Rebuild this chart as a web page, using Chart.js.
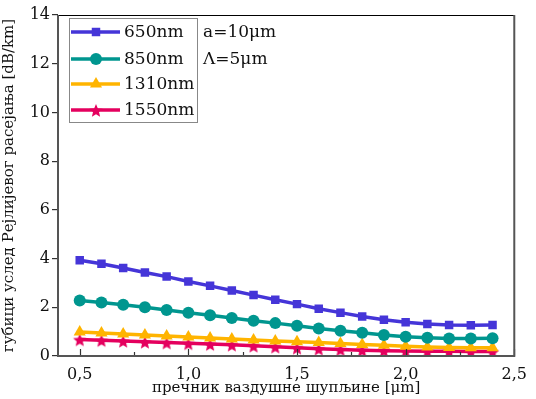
<!DOCTYPE html>
<html><head><meta charset="utf-8">
<script src="https://cdn.jsdelivr.net/npm/chart.js@4/dist/chart.umd.min.js"></script>
<style>html,body{margin:0;padding:0;background:#fff}#wrap{width:536px;height:399px}</style>
</head><body><div id="wrap"><canvas id="c" width="536" height="399"></canvas></div>
<script>
const diameters = [0.5,0.6,0.7,0.8,0.9,1.0,1.1,1.2,1.3,1.4,1.5,1.6,1.7,1.8,1.9,2.0,2.1,2.2,2.3,2.4];
const loss650  = [3.93,3.79,3.61,3.43,3.26,3.06,2.88,2.69,2.50,2.31,2.13,1.94,1.78,1.62,1.49,1.39,1.31,1.27,1.26,1.27];
const loss850  = [2.28,2.20,2.10,2.00,1.89,1.78,1.67,1.56,1.45,1.35,1.24,1.13,1.04,0.95,0.86,0.79,0.75,0.72,0.72,0.73];
const loss1310 = [0.99,0.94,0.90,0.86,0.82,0.78,0.74,0.70,0.66,0.62,0.59,0.55,0.51,0.47,0.44,0.40,0.37,0.35,0.34,0.34];
const loss1550 = [0.68,0.65,0.62,0.58,0.55,0.52,0.49,0.46,0.42,0.38,0.34,0.30,0.27,0.24,0.22,0.21,0.20,0.19,0.18,0.18];
const seriesLabels = ['650nm','850nm','1310nm','1550nm'];
const xTicks = [0.5,0.75,1.0,1.25,1.5,1.75,2.0,2.25,2.5];
const xTickLabels = {0.5:'0,5',1:'1,0',1.5:'1,5',2:'2,0',2.5:'2,5'};
const yTicks = [0,2,4,6,8,10,12,14];
const noteLines = ['a=10\u03bcm','\u039b=5\u03bcm'];
const xTitle = 'пречник ваздушне шупљине [\u03bcm]';
const yTitle = 'губици услед Рејлијевог расејања [dB/km]';

const colors = ['#4535D8','#00968F','#FFB400','#E4005E'];
const FONT = '"DejaVu Serif", serif';

function starCanvas(color, r){
  const s = Math.ceil(r*2+2), c = document.createElement('canvas');
  c.width = s; c.height = s;
  const g = c.getContext('2d'); g.fillStyle = color; g.beginPath();
  for(let i=0;i<10;i++){
    const rr = i%2===0 ? r : r*0.45;
    const a = -Math.PI/2 + i*Math.PI/5;
    const px = s/2 + rr*Math.cos(a), py = s/2 + 1 + rr*Math.sin(a);
    i===0 ? g.moveTo(px,py) : g.lineTo(px,py);
  }
  g.closePath(); g.fill();
  return c;
}
const star = starCanvas(colors[3], 7);
const styles = [
  {pointStyle:'rect', radius:6},
  {pointStyle:'circle', radius:6},
  {pointStyle:'triangle', radius:7},
  {pointStyle:star, radius:7}
];
const allData = [loss650, loss850, loss1310, loss1550];
const datasets = allData.map((arr,i)=>({
  label: seriesLabels[i],
  data: diameters.map((d,j)=>({x:d,y:arr[j]})),
  borderColor: colors[i], backgroundColor: colors[i],
  borderWidth: 3.5, pointStyle: styles[i].pointStyle,
  pointRadius: styles[i].radius, pointHoverRadius: styles[i].radius,
  pointBorderWidth: 0, tension: 0
}));

const decor = {
  id:'decor',
  afterDatasetsDraw(chart){
    const ctx = chart.ctx, a = chart.chartArea, xs = chart.scales.x;
    ctx.save();
    ctx.strokeStyle = '#333'; ctx.lineWidth = 1.2;
    xTicks.forEach(v=>{
      const px = Math.round(xs.getPixelForValue(v))+0.5;
      const len = xTickLabels[v] ? 7 : 4;
      ctx.beginPath(); ctx.moveTo(px,a.bottom); ctx.lineTo(px,a.bottom-len); ctx.stroke();
    });
    ctx.strokeStyle = '#000'; ctx.lineWidth = 1;
    ctx.beginPath(); ctx.moveTo(a.left,a.top+0.5); ctx.lineTo(a.right,a.top+0.5); ctx.stroke();
    ctx.strokeStyle = '#555'; ctx.lineWidth = 2;
    ctx.beginPath(); ctx.moveTo(a.right,a.top); ctx.lineTo(a.right,a.bottom+1); ctx.stroke();
    ctx.beginPath(); ctx.moveTo(a.left,a.bottom); ctx.lineTo(a.right,a.bottom); ctx.stroke();
    ctx.beginPath(); ctx.moveTo(a.left,a.top); ctx.lineTo(a.left,a.bottom+1); ctx.stroke();
    const bx = a.left+11, by = a.top+3, bw = 128, bh = 104;
    ctx.fillStyle = '#fff'; ctx.fillRect(bx,by,bw,bh);
    ctx.strokeStyle = '#888'; ctx.lineWidth = 1;
    ctx.strokeRect(bx+0.5,by+0.5,bw,bh);
    const rows = [14,41,66,92];
    ctx.font = '17px ' + FONT; ctx.textBaseline = 'middle'; ctx.textAlign = 'left';
    chart.data.datasets.forEach((ds,i)=>{
      const y = by + rows[i];
      ctx.strokeStyle = ds.borderColor; ctx.lineWidth = 3.5;
      ctx.beginPath(); ctx.moveTo(bx+2,y); ctx.lineTo(bx+51,y); ctx.stroke();
      ctx.fillStyle = ds.backgroundColor;
      Chart.helpers.drawPoint(ctx,{pointStyle:ds.pointStyle,radius:ds.pointRadius,rotation:0,borderWidth:0},bx+27,y);
      ctx.fillStyle = '#111';
      ctx.fillText(ds.label, bx+55, y+1);
    });
    ctx.fillStyle = '#111';
    noteLines.forEach((t,i)=>ctx.fillText(t, bx+134, by+15+i*27));
    ctx.restore();
  }
};

new Chart(document.getElementById('c'),{
  type:'line',
  data:{datasets},
  options:{
    responsive:false, animation:false, devicePixelRatio:1,
    layout:{padding:{top:15,right:16,left:0,bottom:0}},
    plugins:{legend:{display:false},tooltip:{enabled:false}},
    scales:{
      x:{type:'linear',min:0.4,max:2.5,
        afterBuildTicks(s){ s.ticks = xTicks.map(v=>({value:v})); },
        afterFit(s){ s.height = 43; },
        grid:{display:false,drawTicks:false},
        border:{display:false},
        ticks:{color:'#111',font:{family:FONT,size:16},padding:9,maxRotation:0,autoSkip:false,
          callback:(v)=>xTickLabels[Math.round(v*100)/100]||''},
        title:{display:true,text:xTitle,color:'#111',font:{family:FONT,size:15},padding:{top:0,bottom:2}}
      },
      y:{min:0,max:14,
        afterBuildTicks(s){ s.ticks = yTicks.map(v=>({value:v})); },
        afterFit(s){ s.width = 58; },
        grid:{display:true,drawOnChartArea:false,drawTicks:true,tickLength:6,color:'#333',lineWidth:1.2},
        border:{display:false},
        ticks:{color:'#111',font:{family:FONT,size:16},padding:2},
        title:{display:true,text:yTitle,color:'#111',font:{family:FONT,size:15},padding:{top:0,bottom:2}}
      }
    }
  },
  plugins:[decor]
});
</script></body></html>
